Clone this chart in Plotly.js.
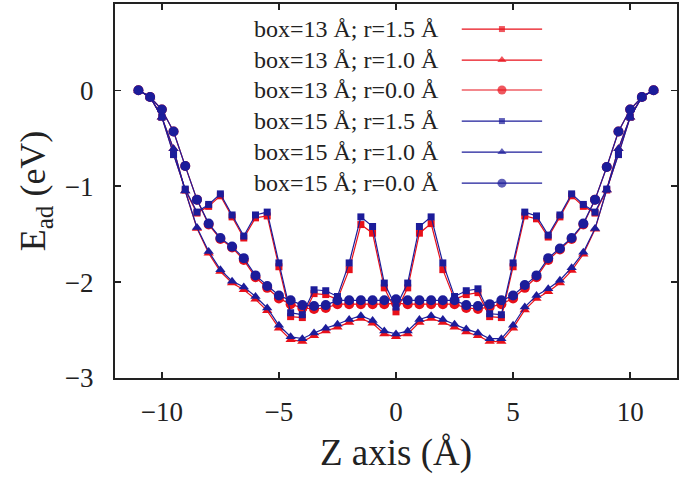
<!DOCTYPE html>
<html>
<head>
<meta charset="utf-8">
<script src="https://cdn.plot.ly/plotly-3.0.1.min.js"></script>
<style>html,body{margin:0;padding:0;background:#fff;}#chart{width:685px;height:479px;}</style>
</head>
<body>
<div id="chart"></div>
<script>
// Z positions (Å)
var zPos = [-11,-10.5,-10,-9.5,-9,-8.5,-8,-7.5,-7,-6.5,-6,-5.5,-5,-4.5,-4,-3.5,-3,-2.5,-2,-1.5,-1,-0.5,0,0.5,1,1.5,2,2.5,3,3.5,4,4.5,5,5.5,6,6.5,7,7.5,8,8.5,9,9.5,10,10.5,11];

// box = 13 Å
var b13_r15 = [0,-0.07,-0.28,-0.67,-1.04,-1.28,-1.21,-1.10,-1.32,-1.54,-1.33,-1.31,-1.84,-2.36,-2.37,-2.12,-2.13,-2.18,-1.87,-1.40,-1.49,-2.06,-2.31,-2.06,-1.49,-1.39,-1.87,-2.18,-2.13,-2.11,-2.36,-2.37,-1.84,-1.31,-1.34,-1.53,-1.32,-1.10,-1.21,-1.28,-1.04,-0.67,-0.28,-0.07,0];
var b13_r10 = [0,-0.07,-0.28,-0.61,-1.05,-1.44,-1.70,-1.89,-2.01,-2.08,-2.18,-2.30,-2.48,-2.60,-2.62,-2.56,-2.51,-2.47,-2.42,-2.38,-2.43,-2.54,-2.57,-2.54,-2.42,-2.38,-2.42,-2.47,-2.52,-2.56,-2.62,-2.62,-2.48,-2.29,-2.17,-2.10,-2.01,-1.88,-1.71,-1.45,-1.04,-0.61,-0.28,-0.07,0];
var b13_r00 = [0,-0.07,-0.20,-0.43,-0.79,-1.14,-1.40,-1.55,-1.64,-1.77,-1.95,-2.06,-2.17,-2.23,-2.27,-2.28,-2.27,-2.23,-2.23,-2.23,-2.23,-2.23,-2.22,-2.23,-2.23,-2.23,-2.23,-2.23,-2.27,-2.28,-2.26,-2.23,-2.17,-2.06,-1.95,-1.77,-1.66,-1.55,-1.40,-1.14,-0.80,-0.43,-0.20,-0.07,0];

// box = 15 Å
var b15_r15 = [0,-0.07,-0.28,-0.67,-1.03,-1.27,-1.19,-1.08,-1.30,-1.52,-1.30,-1.27,-1.80,-2.32,-2.34,-2.08,-2.09,-2.15,-1.80,-1.32,-1.42,-2.01,-2.26,-2.01,-1.42,-1.32,-1.80,-2.15,-2.09,-2.07,-2.33,-2.34,-1.80,-1.27,-1.31,-1.51,-1.30,-1.08,-1.19,-1.27,-1.03,-0.67,-0.28,-0.07,0];
var b15_r10 = [0,-0.07,-0.28,-0.61,-1.05,-1.43,-1.68,-1.87,-1.99,-2.05,-2.15,-2.27,-2.45,-2.57,-2.59,-2.53,-2.48,-2.44,-2.39,-2.35,-2.40,-2.51,-2.54,-2.51,-2.39,-2.35,-2.39,-2.44,-2.49,-2.53,-2.59,-2.59,-2.45,-2.26,-2.14,-2.07,-1.98,-1.85,-1.69,-1.44,-1.04,-0.61,-0.28,-0.07,0];
var b15_r00 = [0,-0.07,-0.20,-0.43,-0.79,-1.14,-1.39,-1.54,-1.63,-1.75,-1.93,-2.04,-2.14,-2.19,-2.24,-2.25,-2.24,-2.19,-2.19,-2.19,-2.19,-2.19,-2.18,-2.19,-2.19,-2.19,-2.19,-2.19,-2.24,-2.25,-2.23,-2.19,-2.14,-2.03,-1.93,-1.75,-1.65,-1.54,-1.39,-1.14,-0.80,-0.43,-0.20,-0.07,0];

var seriesNames = ["box=13 Å; r=1.5 Å","box=13 Å; r=1.0 Å","box=13 Å; r=0.0 Å","box=15 Å; r=1.5 Å","box=15 Å; r=1.0 Å","box=15 Å; r=0.0 Å"];
var seriesData = [b13_r15, b13_r10, b13_r00, b15_r15, b15_r10, b15_r00];

var xTicks = [-10,-5,0,5,10];
var xTickText = ["\u221210","\u22125","0","5","10"];
var yTicks = [-3,-2,-1,0];
var yTickText = ["\u22123","\u22122","\u22121","0"];

var RED = "#e8101a", BLUE = "#1c1c9a";
var colors = [RED,RED,RED,BLUE,BLUE,BLUE];
var symbols = ["square","triangle-up","circle","square","triangle-up","circle"];
var sizes = [7,9,10,7,9,10];

var traces = [];
for (var i = 0; i < 6; i++) {
  traces.push({
    x: zPos, y: seriesData[i], type: "scatter", mode: "lines+markers",
    name: seriesNames[i], showlegend: false,
    line: {color: colors[i], width: 1.2},
    marker: {color: colors[i], symbol: symbols[i], size: sizes[i], line: {width: 0}}
  });
}

// custom legend (text on the left, sample on the right)
var legRows = [0.933, 0.850, 0.770, 0.687, 0.604, 0.521];
var legX0 = 0.617, legX1 = 0.760, legXm = 0.6885;
var annotations = [];
for (var j = 0; j < 6; j++) {
  traces.push({
    x: [legX0, legXm, legX1], y: [legRows[j], legRows[j], legRows[j]],
    xaxis: "x2", yaxis: "y2", type: "scatter", mode: "lines+markers", showlegend: false,
    hoverinfo: "skip",
    line: {color: colors[j], width: 1.2},
    marker: {color: colors[j], symbol: symbols[j], size: [0, sizes[j] - 1, 0], line: {width: 0}}
  });
  annotations.push({
    xref: "paper", yref: "paper", x: 0.580, y: legRows[j], xanchor: "right", yanchor: "middle",
    text: seriesNames[j], showarrow: false,
    font: {family: "Liberation Serif, serif", size: 24, color: "#222"}
  });
}

var axisFont = {family: "Liberation Serif, serif", size: 27, color: "#222"};
var layout = {
  width: 685, height: 479,
  margin: {l: 115, r: 8, t: 4, b: 101},
  paper_bgcolor: "#fff", plot_bgcolor: "#fff",
  font: {family: "Liberation Serif, serif", color: "#222"},
  showlegend: false,
  xaxis: {
    range: [-12, 12], tickvals: xTicks, ticktext: xTickText,
    ticks: "inside", ticklen: 6, tickwidth: 1.5, tickcolor: "#222",
    showline: true, linecolor: "#222", linewidth: 2, mirror: "ticks",
    showgrid: false, zeroline: false, tickfont: axisFont, ticklabelstandoff: 9,
    title: {text: "Z axis (Å)", font: {family: "Liberation Serif, serif", size: 37, color: "#222"}, standoff: 13}
  },
  yaxis: {
    range: [-3, 0.9], tickvals: yTicks, ticktext: yTickText,
    ticks: "inside", ticklen: 6, tickwidth: 1.5, tickcolor: "#222",
    showline: true, linecolor: "#222", linewidth: 2, mirror: "ticks",
    showgrid: false, zeroline: false, tickfont: axisFont, ticklabelstandoff: 14,
    title: {text: "E<sub>ad</sub> (eV)", font: {family: "Liberation Serif, serif", size: 36, color: "#222"}, standoff: 8}
  },
  xaxis2: {overlaying: "x", anchor: "y2", range: [0, 1], visible: false, fixedrange: true},
  yaxis2: {overlaying: "y", anchor: "x2", range: [0, 1], visible: false, fixedrange: true},
  annotations: annotations
};

Plotly.newPlot("chart", traces, layout, {displayModeBar: false, staticPlot: true});
</script>
</body>
</html>
